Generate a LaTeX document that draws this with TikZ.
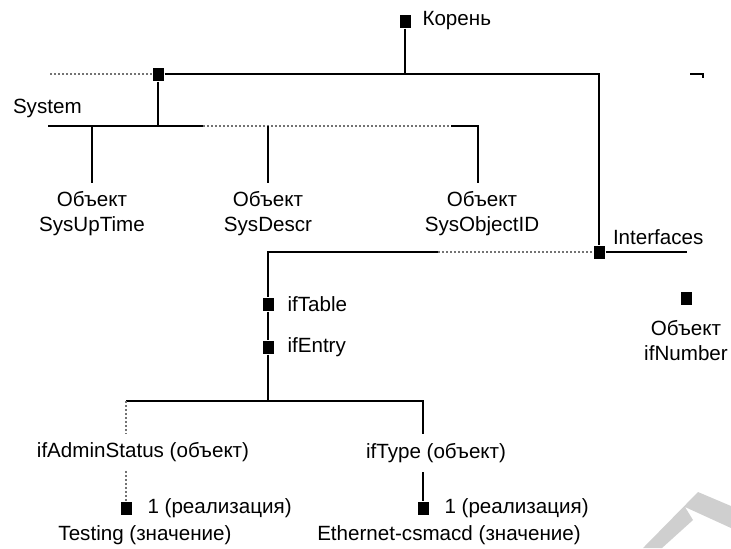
\documentclass[tikz,border=0pt]{standalone}
\usepackage{fontspec}
\setmainfont{Liberation Sans}
\usetikzlibrary{positioning}

\begin{document}
\begin{tikzpicture}[
      x=0.5pt, y=-0.5pt,
      line width=1pt,
      every node/.style={font=\fontsize{10.3}{12.5}\selectfont, align=center},
      txt/.style={inner xsep=1pt, inner ysep=4pt},
      sq/.style={rectangle, fill=black, inner sep=0pt,
                 minimum width=5.5pt, minimum height=6.5pt},
      faint/.style={densely dotted, black!55},
    ]
    \useasboundingbox (0,0) rectangle (731,548);
    % the tree, top down; dotted bits are where the scan faded out
    \node[sq] (root) at (405,21) {};
    \node[txt, right=4pt of root] (rootlbl) {Корень};
    \node[sq] (sys) at (158,74) {};
    \node[txt, anchor=west] (syslbl) at (10,108) {System};
    \node[txt] (uptime) at (92,214) {Объект\\SysUpTime};
    \node[txt] (descr) at (268,214) {Объект\\SysDescr};
    \node[txt] (objid) at (482,214) {Объект\\SysObjectID};
    \node[sq] (intf) at (599,252) {};
    \node[txt, anchor=west] (intflbl) at (610,237) {Interfaces};
    \node[sq] (ifnum) at (686,298) {};
    \node[txt, below=3pt of ifnum] (ifnumlbl) {Объект\\ifNumber};
    \node[sq] (iftable) at (268,304) {};
    \node[txt, right=5pt of iftable] (iftablelbl) {ifTable};
    \node[sq] (ifentry) at (268,347) {};
    \node[txt, right=5pt of ifentry] (ifentrylbl) {ifEntry};
    \node[txt] (admin) at (143,452) {ifAdminStatus (объект)};
    \node[txt] (type) at (436,453) {ifType (объект)};
    \node[sq] (admval) at (126,508) {};
    \node[txt, right=6pt of admval] (admvallbl) {1 (реализация)};
    \node[sq] (typeval) at (423,508) {};
    \node[txt, right=6pt of typeval] (typevallbl) {1 (реализация)};
    \node[txt] (testing) at (145,535) {Testing (значение)};
    \node[txt] (ether) at (449,535) {Ethernet-csmacd (значение)};
    % bar ends and breaks
    \coordinate (topl) at (50,74);
    \coordinate (topr) at (690,74);
    \coordinate (b2l) at (48,126);
    \coordinate (b2m) at (203,126);
    \coordinate (b2n) at (451,126);
    \coordinate (b2r) at (478,126);
    \coordinate (b3l) at (126,401);
    \coordinate (b3r) at (423,401);
    \coordinate (cut) at (438,252);
    \coordinate (ifend) at (687,252);
    \draw (root) -- (root |- sys);
    \draw[faint] (topl) -- (sys);
    \draw (sys) -- (sys -| intf) -- (intf);
    \draw (topr) -- ++(13,0) -- ++(0,4);
    \draw (sys) -- (sys |- b2l);
    \draw (b2l) -- (b2m);
    \draw[faint] (b2m) -- (b2n);
    \draw (b2n) -- (b2r) -- (b2r |- objid.north);
    \draw (uptime |- b2l) -- (uptime);
    \draw (descr |- b2l) -- (descr);
    \draw (intf) -- (ifend);
    \draw[faint] (cut) -- (intf);
    \draw (cut) -- (iftable |- cut) -- (iftable) -- (ifentry) -- (ifentry |- b3l);
    \draw (b3l) -- (b3r) -- (b3r |- type.north);
    \draw[faint] (b3l) -- (b3l |- admin.north);
    \draw[faint] (admval) -- (admval |- admin.south);
    \draw (typeval) -- (typeval |- type.south);
    % grey mark in the corner
    \fill[black!19] (643,548) -- (698,492) -- (731,506) -- (731,528)
      -- (685,507) -- (693,520) -- (662,548) -- cycle;
  \end{tikzpicture}
\end{document}
